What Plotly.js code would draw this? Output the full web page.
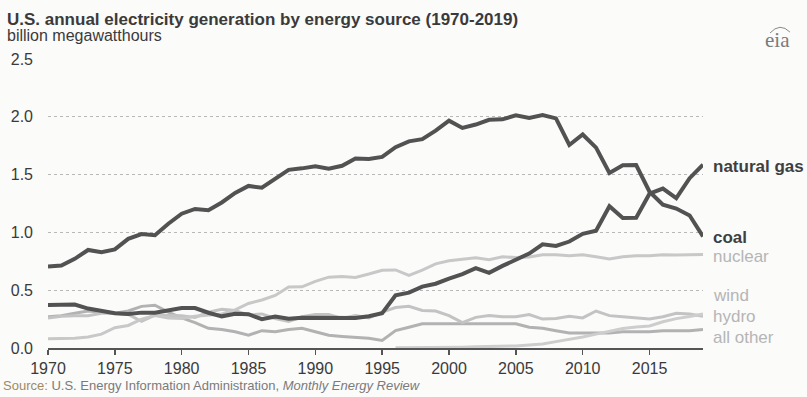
<!DOCTYPE html>
<html>
<head>
<meta charset="utf-8">
<script src="https://cdn.plot.ly/plotly-3.0.1.min.js"></script>
<style>
html,body{margin:0;padding:0;background:#fbfbfa;}
#chart{width:807px;height:397px;}
</style>
</head>
<body>
<div id="chart"></div>
<script>
var years = [1970,1971,1972,1973,1974,1975,1976,1977,1978,1979,
             1980,1981,1982,1983,1984,1985,1986,1987,1988,1989,
             1990,1991,1992,1993,1994,1995,1996,1997,1998,1999,
             2000,2001,2002,2003,2004,2005,2006,2007,2008,2009,
             2010,2011,2012,2013,2014,2015,2016,2017,2018,2019];

var coal = [0.704,0.713,0.771,0.848,0.828,0.853,0.944,0.985,0.976,1.075,
            1.162,1.203,1.192,1.259,1.342,1.402,1.386,1.464,1.541,1.554,
            1.572,1.551,1.576,1.639,1.635,1.653,1.737,1.788,1.807,1.881,
            1.966,1.904,1.933,1.974,1.978,2.013,1.991,2.016,1.986,1.756,
            1.847,1.733,1.514,1.581,1.582,1.352,1.239,1.206,1.146,0.965];

var naturalGas = [0.373,0.374,0.376,0.341,0.320,0.300,0.295,0.306,0.305,0.329,
                  0.346,0.346,0.305,0.274,0.297,0.292,0.249,0.273,0.253,0.262,
                  0.262,0.262,0.262,0.260,0.275,0.300,0.455,0.479,0.531,0.556,
                  0.601,0.639,0.691,0.650,0.710,0.761,0.817,0.897,0.883,0.921,
                  0.988,1.014,1.226,1.125,1.127,1.335,1.379,1.297,1.469,1.586];

var nuclear = [0.080,0.080,0.085,0.095,0.120,0.175,0.195,0.250,0.280,0.260,
               0.255,0.275,0.285,0.295,0.330,0.385,0.415,0.455,0.527,0.529,
               0.577,0.613,0.619,0.610,0.640,0.673,0.675,0.629,0.673,0.728,
               0.754,0.769,0.780,0.764,0.789,0.782,0.787,0.806,0.806,0.799,
               0.807,0.790,0.769,0.789,0.797,0.797,0.806,0.805,0.807,0.809];

var wind = [null,null,null,null,null,null,null,null,null,null,
            null,null,null,null,null,null,null,null,null,null,
            null,null,null,null,null,null,0.003,0.003,0.003,0.005,
            0.006,0.007,0.010,0.011,0.014,0.018,0.027,0.034,0.055,0.074,
            0.095,0.120,0.141,0.168,0.182,0.191,0.227,0.254,0.273,0.295];

var hydro = [0.260,0.275,0.280,0.280,0.300,0.300,0.290,0.230,0.285,0.285,
             0.280,0.265,0.310,0.335,0.325,0.285,0.295,0.255,0.230,0.270,
             0.290,0.290,0.255,0.280,0.260,0.310,0.350,0.360,0.325,0.320,
             0.280,0.220,0.265,0.280,0.270,0.270,0.290,0.250,0.255,0.275,
             0.260,0.320,0.280,0.270,0.260,0.250,0.270,0.300,0.295,0.275];

var allOther = [0.270,0.280,0.300,0.320,0.310,0.300,0.320,0.360,0.370,0.310,
                0.260,0.220,0.170,0.160,0.140,0.110,0.150,0.140,0.160,0.170,
                0.140,0.110,0.100,0.090,0.085,0.065,0.150,0.180,0.210,0.210,
                0.210,0.210,0.210,0.210,0.210,0.210,0.180,0.170,0.150,0.130,
                0.130,0.130,0.130,0.140,0.140,0.140,0.150,0.150,0.150,0.160];

var yTicks = [0.0,0.5,1.0,1.5,2.0,2.5];
var yTickText = ['0.0','0.5','1.0','1.5','2.0','2.5'];
var xTicks = [1970,1975,1980,1985,1990,1995,2000,2005,2010,2015];

var font = 'Arial, "Liberation Sans", sans-serif';

function line(y, color, width, name){
  return {x: years, y: y, type: 'scatter', mode: 'lines', name: name,
          line: {color: color, width: width, shape: 'linear'},
          hoverinfo: 'skip', connectgaps: false};
}

var traces = [
  line(allOther, '#b2b2b2', 3, 'all other'),
  line(hydro, '#c3c3c3', 3, 'hydro'),
  line(wind, '#cdcdcd', 3, 'wind'),
  line(nuclear, '#c8c8c8', 3, 'nuclear'),
  line(naturalGas, '#525252', 4, 'natural gas'),
  line(coal, '#525252', 4, 'coal')
];

function lab(text, yv, color, bold){
  return {xref:'x', yref:'y', x: 2019, y: yv, xanchor:'left', yanchor:'middle',
          xshift: 8, text: bold ? '<b>'+text+'</b>' : text, showarrow:false,
          font:{family: font, size: 17, color: color}};
}

var layout = {
  width: 807, height: 397,
  paper_bgcolor: '#fbfbfa', plot_bgcolor: 'rgba(0,0,0,0)',
  margin: {l: 48, r: 104, t: 59, b: 49, pad: 0},
  showlegend: false,
  font: {family: font, color: '#3a3a3a'},
  xaxis: {
    range: [1970, 2019], tickvals: xTicks, ticktext: xTicks.map(String),
    showgrid: false, zeroline: false, showline: true, linecolor: '#555', linewidth: 2,
    ticks: 'outside', ticklen: 5, tickwidth: 1.5, tickcolor: '#555',
    tickfont: {family: font, size: 16, color: '#3a3a3a'}, fixedrange: true
  },
  yaxis: {
    range: [0, 2.5], tickvals: yTicks, ticktext: yTickText,
    showgrid: true, gridcolor: '#b8b8b8', gridwidth: 1, griddash: 'dot',
    zeroline: false, showline: false, ticks: '', ticklabelstandoff: 14,
    tickfont: {family: font, size: 16, color: '#3a3a3a'}, fixedrange: true
  },
  annotations: [
    {xref:'paper', yref:'paper', x: -0.066, y: 1.137, xanchor:'left', yanchor:'middle',
     text:'<b>U.S. annual electricity generation by energy source (1970-2019)</b>', showarrow:false,
     font:{family: font, size: 17, color:'#3a3a3a'}},
    {xref:'paper', yref:'paper', x: -0.066, y: 1.080, xanchor:'left', yanchor:'middle',
     text:'billion megawatthours', showarrow:false,
     font:{family: font, size: 16, color:'#3a3a3a'}},
    {xref:'paper', yref:'paper', x: -0.072, y: -0.131, xanchor:'left', yanchor:'middle',
     text:'<span style="color:#a08a60">Source:</span> U.S. Energy Information Administration, <i>Monthly Energy Review</i>',
     showarrow:false, font:{family: font, size: 13, color:'#7a7a7a'}},
    {xref:'paper', yref:'paper', x: 1.1145, y: 1.066, xanchor:'center', yanchor:'middle',
     text:'eia', showarrow:false,
     font:{family: '"Liberation Serif", "DejaVu Serif", serif', size: 21, color:'#7a7a7a'}},
    lab('natural gas', 1.57, '#3f3f3f', true),
    lab('coal', 0.96, '#3f3f3f', true),
    lab('nuclear', 0.79, '#b5b5b5', false),
    lab('wind', 0.45, '#b5b5b5', false),
    lab('hydro', 0.27, '#b5b5b5', false),
    lab('all other', 0.095, '#b5b5b5', false)
  ],
  shapes: [
    {type:'path', xref:'paper', yref:'paper',
     path:'M 1.1023 1.090 Q 1.1176 1.128 1.1328 1.093',
     line:{color:'#8a8a8a', width:1}}
  ]
};

Plotly.newPlot('chart', traces, layout, {displayModeBar: false, staticPlot: true});
</script>
</body>
</html>
